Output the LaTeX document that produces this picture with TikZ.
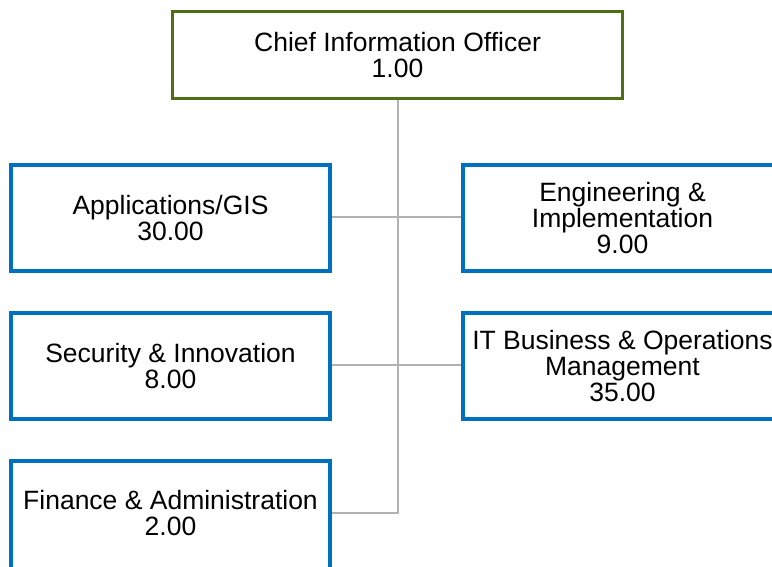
\documentclass[tikz,border=0pt]{standalone}
\usepackage{fontspec}
\setmainfont{Liberation Sans}
\usetikzlibrary{backgrounds}
\definecolor{cioGreen}{RGB}{79,111,20}
\definecolor{unitBlue}{RGB}{0,112,192}
\definecolor{linkGray}{RGB}{178,178,178}
\tikzset{
unit/.style={draw=unitBlue,line width=3.5pt,fill=white,minimum width=319pt,minimum height=106pt,inner sep=0pt,align=center,font=\fontsize{26.5}{26}\selectfont},
head/.style={unit,draw=cioGreen,minimum width=450pt,minimum height=87pt},
link/.style={draw=linkGray,line width=2pt}
}
\begin{document}
\begin{tikzpicture}[x=1pt,y=-1pt]
\useasboundingbox (0,0) rectangle (772,566);
\node[head] (cio) at (397.5,55) {Chief Information Officer\\1.00};
\node[unit] (app) at (170.5,218) {Applications/GIS\\30.00};
\node[unit] (eng) at (622.5,218) {Engineering \&\\Implementation\\9.00};
\node[unit] (sec) at (170.5,366) {Security \& Innovation\\8.00};
\node[unit] (itb) at (622.5,366) {IT Business \& Operations\\Management\\35.00};
\node[unit,minimum height=110pt,text depth=6pt] (fin) at (170.5,516) {Finance \& Administration\\2.00};
\begin{scope}[on background layer]
\draw[link] (cio.south) |- ([yshift=3pt]fin.east);
\draw[link] ([yshift=1pt]app.east)--([yshift=1pt]eng.west);
\draw[link] ([yshift=1pt]sec.east)--([yshift=1pt]itb.west);
\end{scope}
\end{tikzpicture}
\end{document}
